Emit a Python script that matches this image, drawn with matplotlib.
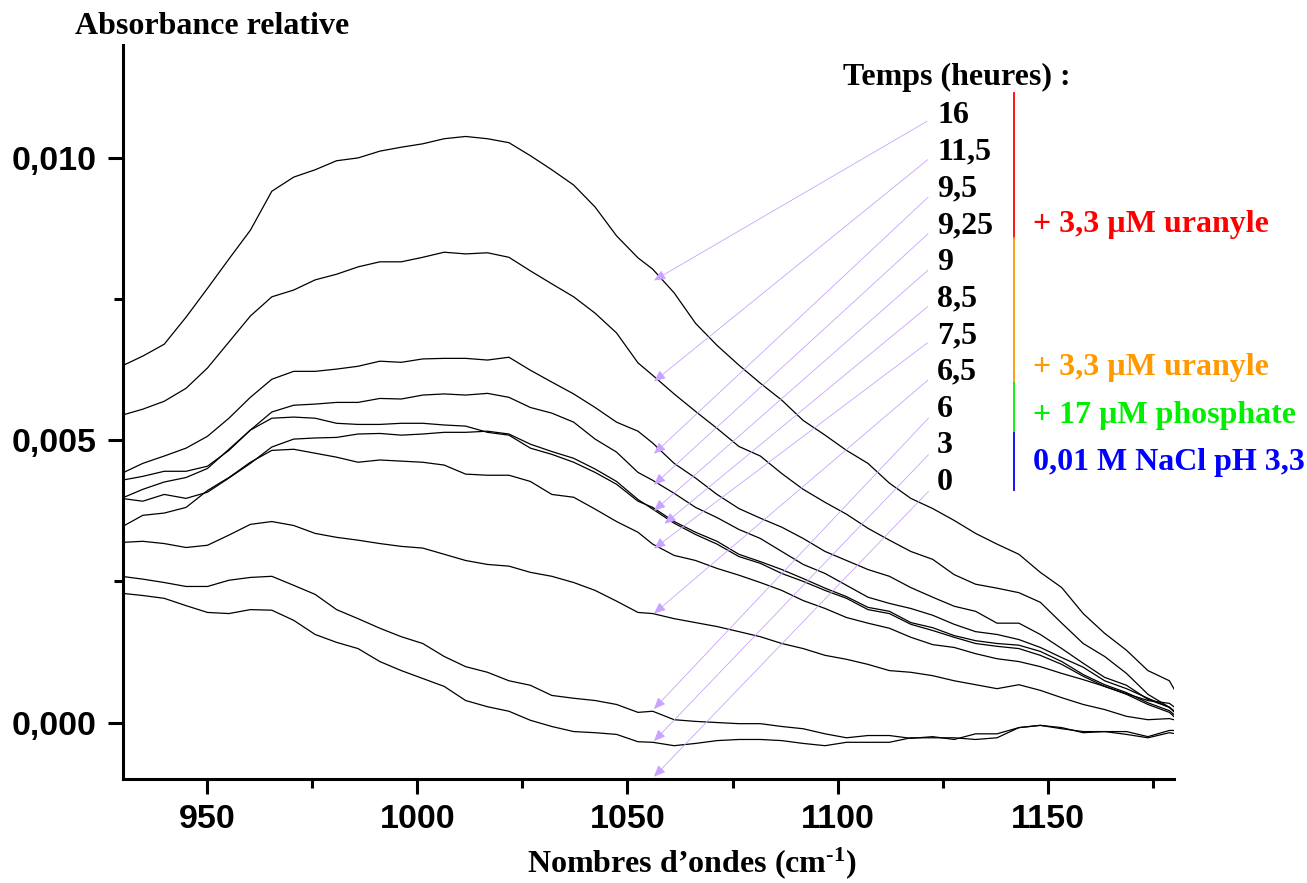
import numpy as np
import matplotlib
matplotlib.use("Agg")
import matplotlib.pyplot as plt
from matplotlib.ticker import MultipleLocator, FuncFormatter
from matplotlib.lines import Line2D

plt.rcParams["mathtext.fontset"] = "custom"
plt.rcParams["mathtext.rm"] = "Liberation Serif:bold"
plt.rcParams["mathtext.it"] = "Liberation Serif:bold:italic"
plt.rcParams["mathtext.bf"] = "Liberation Serif:bold"

# ---------------- data (absorbance in units of 1e-3) ----------------
wavenumber = [929.6, 934.7, 939.8, 945.0, 950.1, 955.2, 960.3, 965.4, 970.6, 975.7,
              980.8, 985.9, 991.1, 996.2, 1001.3, 1006.4, 1011.5, 1016.7, 1021.8, 1026.9,
              1032.0, 1037.2, 1042.3, 1047.4, 1052.5, 1056.0, 1061.1, 1066.2, 1071.3, 1076.5,
              1081.6, 1086.7, 1091.8, 1097.0, 1102.1, 1107.2, 1112.3, 1117.4, 1122.6, 1127.7,
              1132.8, 1137.9, 1143.1, 1148.2, 1153.3, 1158.4, 1163.5, 1168.7, 1173.8, 1178.9, 1180.5]

abs_16h = [6.31, 6.49, 6.70, 7.18, 7.69, 8.21, 8.72, 9.41, 9.66, 9.79, 9.95, 10.00, 10.12, 10.19,
           10.25, 10.34, 10.38, 10.34, 10.27, 10.04, 9.79, 9.52, 9.13, 8.62, 8.23, 8.03, 7.61, 7.07,
           6.68, 6.33, 6.01, 5.71, 5.35, 5.09, 4.82, 4.59, 4.24, 3.97, 3.79, 3.58, 3.35, 3.16, 2.98,
           2.66, 2.39, 1.93, 1.58, 1.28, 0.92, 0.74, 0.53]
abs_11_5h = [5.44, 5.55, 5.69, 5.92, 6.28, 6.74, 7.20, 7.54, 7.66, 7.84, 7.94, 8.07, 8.16, 8.16,
             8.24, 8.33, 8.30, 8.32, 8.24, 8.00, 7.77, 7.54, 7.25, 6.90, 6.37, 6.15, 5.82, 5.51,
             5.21, 4.89, 4.72, 4.41, 4.13, 3.90, 3.69, 3.44, 3.23, 3.03, 2.89, 2.62, 2.45, 2.38,
             2.30, 2.13, 1.76, 1.40, 1.17, 0.87, 0.50, 0.27, 0.16]
abs_9_5h = [4.41, 4.59, 4.72, 4.86, 5.07, 5.39, 5.76, 6.08, 6.22, 6.22, 6.26, 6.31, 6.40, 6.38,
            6.44, 6.45, 6.45, 6.42, 6.47, 6.24, 6.03, 5.82, 5.58, 5.32, 5.16, 4.95, 4.59, 4.33,
            4.04, 3.79, 3.62, 3.46, 3.26, 3.03, 2.87, 2.71, 2.59, 2.39, 2.22, 2.06, 1.97, 1.76,
            1.76, 1.56, 1.31, 1.05, 0.80, 0.66, 0.41, 0.27, 0.18]
abs_9_25h = [4.29, 4.36, 4.45, 4.45, 4.54, 4.82, 5.18, 5.50, 5.62, 5.64, 5.67, 5.67, 5.74, 5.73,
             5.80, 5.82, 5.80, 5.83, 5.76, 5.58, 5.48, 5.32, 5.02, 4.79, 4.43, 4.29, 4.06, 3.81,
             3.63, 3.42, 3.26, 3.03, 2.80, 2.64, 2.43, 2.22, 2.11, 2.02, 1.90, 1.74, 1.61, 1.56,
             1.47, 1.33, 1.15, 0.98, 0.74, 0.60, 0.43, 0.27, 0.16]
abs_9h = [3.97, 4.13, 4.26, 4.34, 4.50, 4.84, 5.18, 5.39, 5.41, 5.39, 5.30, 5.28, 5.28, 5.30,
          5.30, 5.27, 5.25, 5.14, 5.09, 4.86, 4.75, 4.61, 4.43, 4.22, 3.92, 3.81, 3.56, 3.37,
          3.21, 2.98, 2.85, 2.71, 2.55, 2.38, 2.23, 2.04, 1.97, 1.77, 1.68, 1.54, 1.45, 1.40,
          1.37, 1.26, 1.08, 0.85, 0.67, 0.53, 0.35, 0.21, 0.11]
abs_8_5h = [3.97, 3.92, 4.04, 3.97, 4.08, 4.33, 4.59, 4.88, 5.02, 5.04, 5.05, 5.11, 5.12, 5.09,
            5.11, 5.14, 5.14, 5.16, 5.11, 4.93, 4.80, 4.68, 4.49, 4.27, 3.95, 3.78, 3.53, 3.33,
            3.16, 2.94, 2.82, 2.64, 2.50, 2.34, 2.20, 2.00, 1.93, 1.74, 1.63, 1.51, 1.40, 1.35,
            1.31, 1.19, 1.03, 0.82, 0.64, 0.50, 0.32, 0.18, 0.07]
abs_7_5h = [3.46, 3.67, 3.71, 3.81, 4.11, 4.34, 4.61, 4.82, 4.84, 4.77, 4.70, 4.61, 4.65, 4.63,
            4.61, 4.56, 4.40, 4.38, 4.38, 4.27, 4.04, 3.99, 3.78, 3.56, 3.37, 3.16, 2.96, 2.87,
            2.73, 2.61, 2.48, 2.34, 2.16, 2.02, 1.86, 1.76, 1.67, 1.51, 1.38, 1.33, 1.22, 1.13,
            1.08, 0.99, 0.87, 0.76, 0.64, 0.51, 0.39, 0.34, 0.25]
abs_6_5h = [3.19, 3.21, 3.17, 3.10, 3.14, 3.32, 3.51, 3.56, 3.49, 3.35, 3.28, 3.23, 3.17, 3.12,
            3.09, 2.98, 2.87, 2.80, 2.77, 2.66, 2.59, 2.48, 2.34, 2.15, 1.95, 1.93, 1.84, 1.77,
            1.70, 1.61, 1.52, 1.40, 1.31, 1.19, 1.12, 1.03, 0.92, 0.89, 0.83, 0.74, 0.67, 0.60,
            0.67, 0.57, 0.44, 0.32, 0.23, 0.11, 0.05, 0.07, 0.04]
abs_6h = [2.59, 2.54, 2.48, 2.41, 2.41, 2.52, 2.57, 2.59, 2.43, 2.27, 2.00, 1.84, 1.67, 1.52,
          1.40, 1.17, 0.99, 0.89, 0.74, 0.66, 0.48, 0.43, 0.39, 0.32, 0.18, 0.20, 0.05, 0.02,
          0.00, -0.02, -0.02, -0.07, -0.11, -0.20, -0.27, -0.23, -0.23, -0.28, -0.25, -0.30, -0.20,
          -0.20, -0.09, -0.05, -0.09, -0.18, -0.16, -0.21, -0.27, -0.18, -0.20]
abs_3h = [2.29, 2.25, 2.20, 2.07, 1.95, 1.93, 2.00, 1.99, 1.81, 1.56, 1.42, 1.31, 1.08, 0.92,
          0.78, 0.64, 0.39, 0.28, 0.20, 0.04, -0.07, -0.16, -0.18, -0.21, -0.34, -0.35, -0.41, -0.37,
          -0.32, -0.30, -0.30, -0.32, -0.37, -0.41, -0.35, -0.35, -0.35, -0.27, -0.27, -0.27, -0.30,
          -0.27, -0.09, -0.05, -0.11, -0.16, -0.16, -0.16, -0.25, -0.14, -0.14]

spectra = [abs_16h, abs_11_5h, abs_9_5h, abs_9_25h, abs_9h, abs_8_5h, abs_7_5h,
           abs_6_5h, abs_6h, abs_3h]

time_labels = ["16", "11,5", "9,5", "9,25", "9", "8,5", "7,5", "6,5", "6", "3", "0"]
arrow_tip_x = [1056.3, 1056.3, 1056.3, 1056.3, 1056.3, 1058.8, 1056.3, 1056.3, 1056.3, 1056.3, 1056.3]
arrow_tip_y = [7.83, 6.04, 4.76, 4.21, 3.75, 3.52, 3.08, 1.93, 0.24, -0.33, -0.96]

conditions = ["+ 3,3 µM uranyle", "+ 3,3 µM uranyle", "+ 17 µM phosphate", "0,01 M NaCl pH 3,3"]
condition_colors = ["#FF0000", "#FF9900", "#00EE00", "#0000FF"]

# ---------------- figure ----------------
W, H = 1307, 883
fig = plt.figure(figsize=(W / 100, H / 100), dpi=100)
L, R, T, B = 123, 1174, 45, 779
ax = fig.add_axes([L / W, 1 - B / H, (R - L) / W, (B - T) / H])

for s in spectra:
    ax.plot(wavenumber, np.array(s) * 1e-3, color="black", lw=0.9)

ax.set_xlim(930, 1180)
ax.set_ylim(-0.001, 0.012)

for side in ("top", "right"):
    ax.spines[side].set_visible(False)
for side in ("left", "bottom"):
    ax.spines[side].set_linewidth(2.2)

ax.xaxis.set_major_locator(MultipleLocator(50))
ax.xaxis.set_minor_locator(MultipleLocator(25))
ax.yaxis.set_major_locator(MultipleLocator(0.005))
ax.yaxis.set_minor_locator(MultipleLocator(0.0025))
ax.yaxis.set_major_formatter(FuncFormatter(lambda v, p: f"{abs(v) if abs(v) < 1e-9 else v:.3f}".replace(".", ",")))
ax.xaxis.set_major_formatter(FuncFormatter(lambda v, p: f"{v:.0f}"))

ax.tick_params(which="major", direction="out", length=11, width=2.2)
ax.tick_params(which="minor", direction="out", length=6.5, width=2.2)
ax.tick_params(axis="x", which="major", pad=7)
ax.tick_params(axis="y", which="major", pad=8)
for lab in ax.get_xticklabels() + ax.get_yticklabels():
    lab.set_fontfamily("Liberation Sans")
    lab.set_fontweight("bold")
    lab.set_fontsize(24.5)

serif = dict(family="Liberation Serif", weight="bold", size=23)

def fx(px):
    return px / W

def fy(py):
    return 1 - py / H

fig.text(fx(75), fy(34), "Absorbance relative", ha="left", va="baseline", **serif)
fig.text(fx(692), fy(872), r"Nombres d’ondes (cm$^{\text{-1}}$)", ha="center", va="baseline", **serif)
fig.text(fx(843), fy(85), "Temps (heures) :", ha="left", va="baseline", **serif)

# time labels with arrows pointing to the spectra
for i, lab in enumerate(time_labels):
    ax.annotate(lab, xy=(arrow_tip_x[i], arrow_tip_y[i] * 1e-3), xycoords="data",
                xytext=(fx(937), fy(123 + i * 36.7)), textcoords="figure fraction",
                ha="left", va="baseline", annotation_clip=False, **serif,
                arrowprops=dict(arrowstyle="-|>,head_length=0.7,head_width=0.3",
                                color="#C9A3FF", lw=0.6, mutation_scale=10,
                                shrinkA=6, shrinkB=0, relpos=(0, 0.5)))

# coloured condition brackets
segments = [(93, 238), (238, 383), (383, 433), (433, 490)]
for (y0, y1), c in zip(segments, condition_colors):
    fig.add_artist(Line2D([fx(1014), fx(1014)], [fy(y0), fy(y1)], color=c, lw=1.3,
                          transform=fig.transFigure))
for txt, c, yb in zip(conditions, condition_colors, [232, 375, 423, 470]):
    fig.text(fx(1033), fy(yb), txt, color=c, ha="left", va="baseline", **serif)

fig.savefig("out.png", dpi=100)
